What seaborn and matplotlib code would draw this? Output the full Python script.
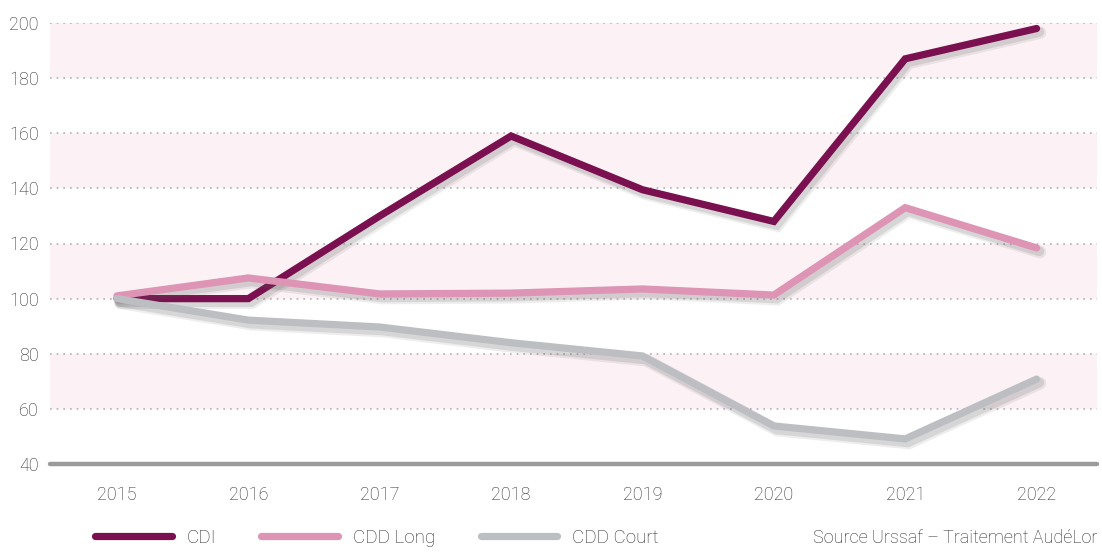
import numpy as np
import pandas as pd
import matplotlib
matplotlib.use('Agg')
import matplotlib.pyplot as plt
import matplotlib.patheffects as pe
import seaborn as sns

# ------------------------------------------------------------------
# Data (index base 100 in 2015)
# ------------------------------------------------------------------
years = ['2015', '2016', '2017', '2018', '2019', '2020', '2021', '2022']
cdi = [100, 100, 130, 159, 139.5, 128, 187, 198]
cdd_long = [101, 107.5, 101.7, 102, 103.5, 101.3, 133, 118.4]
cdd_court = [100, 92.2, 89.7, 84, 79.2, 53.8, 49.1, 70.8]
series_names = ['CDI', 'CDD Long', 'CDD Court']
series_colors = ['#7a1050', '#dd94b5', '#bdbec2']
y_ticks = [40, 60, 80, 100, 120, 140, 160, 180, 200]
source_text = 'Source Urssaf – Traitement AudéLor'

df = pd.DataFrame({
    'annee': years * 3,
    'indice': cdi + cdd_long + cdd_court,
    'contrat': np.repeat(series_names, len(years)),
})

sns.set_theme(style='white')
plt.rcParams['font.family'] = ['Roboto', 'DejaVu Sans']
plt.rcParams['font.weight'] = 'light'
text_color = '#2b2b2b'

fig = plt.figure(figsize=(11.02, 5.52), dpi=100)
ax = fig.add_axes([50 / 1102, 1 - 464 / 552, 1047 / 1102, 441 / 552])

# pink bands and dotted grid
for lo in [60, 100, 140, 180]:
    ax.axhspan(lo, lo + 20, color='#fcf1f5', zorder=0, lw=0)
for t in y_ticks[1:]:
    ax.axhline(t, color='#b0b0b0', lw=1.2, ls=(0, (1, 3)), zorder=1)

sns.lineplot(data=df, x='annee', y='indice', hue='contrat',
             hue_order=series_names, palette=series_colors,
             lw=5.2, sort=False, ax=ax, legend=False, zorder=3)

# soft drop shadow under each line
for line in ax.get_lines()[-3:]:
    line.set_solid_capstyle('round')
    line.set_solid_joinstyle('miter')
    line.set_path_effects([
        pe.SimpleLineShadow(offset=(2.5, -3), shadow_color='#555555', alpha=0.10, linewidth=9),
        pe.SimpleLineShadow(offset=(2, -2.5), shadow_color='#555555', alpha=0.15, linewidth=7),
        pe.Normal()])

ax.axhline(40, color='#9b9b9b', lw=3.2, zorder=4, clip_on=False)

ax.set_xlim(-0.51, 7.46)
ax.set_ylim(40, 200)
ax.set_yticks(y_ticks)
ax.set_xlabel('')
ax.set_ylabel('')
for s in ax.spines.values():
    s.set_visible(False)
ax.tick_params(axis='y', length=0, pad=8, labelsize=13, labelcolor=text_color)
ax.tick_params(axis='x', length=0, pad=16, labelsize=13, labelcolor=text_color)

# legend
handles = [plt.Line2D([], [], color=c, lw=5.2, solid_capstyle='round') for c in series_colors]
fig.legend(handles, series_names, loc='center left', bbox_to_anchor=(78 / 1102, 1 - 538 / 552),
           ncol=3, frameon=False, handlelength=4.1, handletextpad=0.8, columnspacing=2.4,
           fontsize=13.5, labelcolor=text_color)

fig.text(1097 / 1102, 1 - 538 / 552, source_text, ha='right', va='center',
         fontsize=13, color=text_color)

plt.savefig('out.png', dpi=100)
plt.close()
